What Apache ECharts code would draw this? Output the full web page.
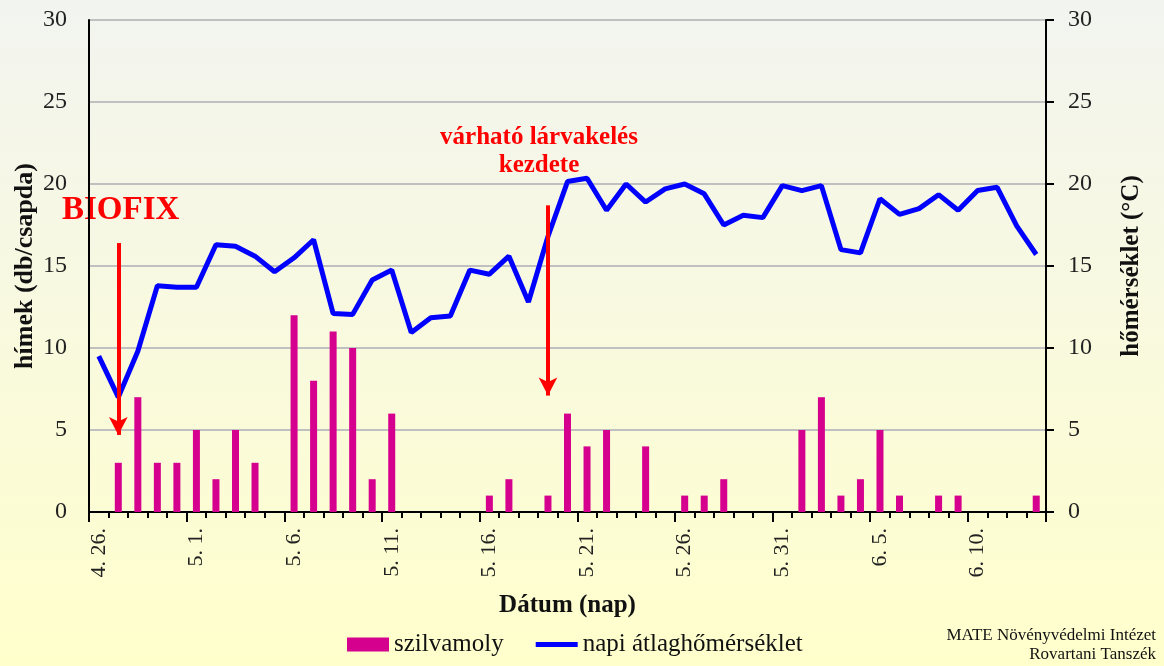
<!DOCTYPE html>
<html>
<head>
<meta charset="utf-8">
<script src="https://cdn.jsdelivr.net/npm/echarts@6/dist/echarts.min.js"></script>
<style>
  html, body { margin: 0; padding: 0; }
  #chart { width: 1164px; height: 666px; }
</style>
</head>
<body>
<div id="chart"></div>
<script>
'use strict';

// napok: 4.26 - 6.13
var days = ['4. 26.', '4. 27.', '4. 28.', '4. 29.', '4. 30.',
    '5. 1.', '5. 2.', '5. 3.', '5. 4.', '5. 5.', '5. 6.', '5. 7.', '5. 8.', '5. 9.', '5. 10.',
    '5. 11.', '5. 12.', '5. 13.', '5. 14.', '5. 15.', '5. 16.', '5. 17.', '5. 18.', '5. 19.', '5. 20.',
    '5. 21.', '5. 22.', '5. 23.', '5. 24.', '5. 25.', '5. 26.', '5. 27.', '5. 28.', '5. 29.', '5. 30.',
    '5. 31.', '6. 1.', '6. 2.', '6. 3.', '6. 4.', '6. 5.', '6. 6.', '6. 7.', '6. 8.', '6. 9.',
    '6. 10.', '6. 11.', '6. 12.', '6. 13.'];

// szilvamoly fogás (db/csapda)
var catches = [0, 3, 7, 3, 3, 5, 2, 5, 3, 0, 12, 8, 11, 10, 2,
    6, 0, 0, 0, 0, 1, 2, 0, 1, 6, 4, 5, 0, 4, 0,
    1, 1, 2, 0, 0, 0, 5, 7, 1, 2, 5, 1, 0, 1, 1,
    0, 0, 0, 1];

// napi átlaghőmérséklet (°C)
var temps = [9.5, 7.0, 9.8, 13.8, 13.7, 13.7, 16.3, 16.2, 15.6, 14.65, 15.5, 16.6, 12.1, 12.05, 14.15,
    14.75, 10.95, 11.85, 11.95, 14.75, 14.5, 15.6, 12.8, 16.8, 20.15, 20.35, 18.4, 20.0, 18.9, 19.7,
    20.0, 19.4, 17.5, 18.1, 17.95, 19.9, 19.6, 19.9, 16.0, 15.8, 19.1, 18.15, 18.5, 19.35, 18.4,
    19.6, 19.8, 17.45, 15.7];

var yTicks = [0, 30, 5];

var serif = '"Liberation Serif", "DejaVu Serif", serif';

var chart = echarts.init(document.getElementById('chart'));

var option = {
    backgroundColor: new echarts.graphic.LinearGradient(0, 0, 0, 1, [
        {offset: 0, color: '#f2f4f0'},
        {offset: 1, color: '#ffffcc'}
    ]),
    animation: false,
    textStyle: {fontFamily: serif},
    grid: {left: 89, right: 118, top: 20, bottom: 154, outerBoundsMode: 'none'},
    legend: {
        bottom: 4,
        left: 342,
        itemWidth: 42,
        itemHeight: 14,
        itemGap: 32,
        textStyle: {fontFamily: serif, fontSize: 25, color: '#111'},
        data: [
            {name: 'szilvamoly', icon: 'rect'},
            {name: 'napi átlaghőmérséklet', icon: 'path://M0,0L44,0L44,5L0,5Z'}
        ]
    },
    xAxis: [{
        type: 'category',
        data: days,
        name: 'Dátum (nap)',
        nameLocation: 'middle',
        nameGap: 81,
        nameTextStyle: {fontFamily: serif, fontSize: 25, fontWeight: 'bold', color: '#111'},
        axisLine: {lineStyle: {color: '#000', width: 2}},
        axisTick: {show: true, interval: 0, length: 6, lineStyle: {color: '#000', width: 2}},
        axisLabel: {interval: 4, rotate: 90, margin: 16, fontFamily: serif, fontSize: 22, color: '#222'},
        splitLine: {show: false}
    }, {
        // hosszabb osztásjelek minden 5. napnál
        type: 'category',
        data: days,
        position: 'bottom',
        axisLine: {show: false},
        axisTick: {show: true, length: 10, interval: function (i) { return i % 5 === 0; },
            lineStyle: {color: '#000', width: 2}},
        axisLabel: {show: false},
        splitLine: {show: false}
    }],
    yAxis: [{
        type: 'value',
        min: yTicks[0],
        max: yTicks[1],
        interval: yTicks[2],
        name: 'hímek (db/csapda)',
        nameLocation: 'middle',
        nameGap: 51,
        nameMoveOverlap: false,
        nameTextStyle: {fontFamily: serif, fontSize: 26, fontWeight: 'bold', color: '#111'},
        axisLine: {show: true, lineStyle: {color: '#000', width: 2}},
        axisTick: {show: false},
        axisLabel: {fontFamily: serif, fontSize: 24, color: '#222', margin: 22},
        splitLine: {lineStyle: {color: '#c0c0c0', width: 2}}
    }, {
        type: 'value',
        min: yTicks[0],
        max: yTicks[1],
        interval: yTicks[2],
        name: 'hőmérséklet (°C)',
        nameLocation: 'middle',
        nameGap: 73,
        nameRotate: 90,
        nameTextStyle: {fontFamily: serif, fontSize: 25, fontWeight: 'bold', color: '#111'},
        axisLine: {show: true, lineStyle: {color: '#000', width: 2}},
        axisTick: {show: true, length: 8, lineStyle: {color: '#000', width: 2}},
        axisLabel: {fontFamily: serif, fontSize: 24, color: '#222', margin: 22},
        splitLine: {show: false}
    }],
    series: [{
        name: 'szilvamoly',
        type: 'bar',
        xAxisIndex: 0,
        yAxisIndex: 0,
        barWidth: 7,
        itemStyle: {color: '#d6008f'},
        data: catches,
        markLine: {
            silent: true,
            symbol: ['none', 'arrow'],
            symbolSize: [14, 18],
            label: {show: false},
            lineStyle: {color: '#ff0000', width: 4, type: 'solid'},
            data: [
                [{coord: ['4. 27.', 16.4]}, {coord: ['4. 27.', 4.7]}],
                [{coord: ['5. 19.', 18.7]}, {coord: ['5. 19.', 7.1]}]
            ]
        }
    }, {
        name: 'napi átlaghőmérséklet',
        type: 'line',
        xAxisIndex: 0,
        yAxisIndex: 1,
        symbol: 'none',
        z: 3,
        lineStyle: {color: '#0000ff', width: 5},
        itemStyle: {color: '#0000ff'},
        data: temps
    }],
    graphic: [{
        type: 'text',
        left: 62,
        top: 194,
        style: {text: 'BIOFIX', fill: '#ff0000', font: 'bold 33px ' + serif}
    }, {
        type: 'text',
        x: 539,
        y: 138,
        style: {text: 'várható lárvakelés', fill: '#ff0000', font: 'bold 25px ' + serif,
            align: 'center', verticalAlign: 'middle'}
    }, {
        type: 'text',
        x: 539,
        y: 166,
        style: {text: 'kezdete', fill: '#ff0000', font: 'bold 25px ' + serif,
            align: 'center', verticalAlign: 'middle'}
    }, {
        type: 'text',
        right: 8,
        top: 627,
        style: {text: 'MATE Növényvédelmi Intézet', fill: '#111', font: '17px ' + serif, align: 'right'}
    }, {
        type: 'text',
        right: 8,
        top: 646,
        style: {text: 'Rovartani Tanszék', fill: '#111', font: '17px ' + serif, align: 'right'}
    }]
};

chart.setOption(option);
</script>
</body>
</html>
